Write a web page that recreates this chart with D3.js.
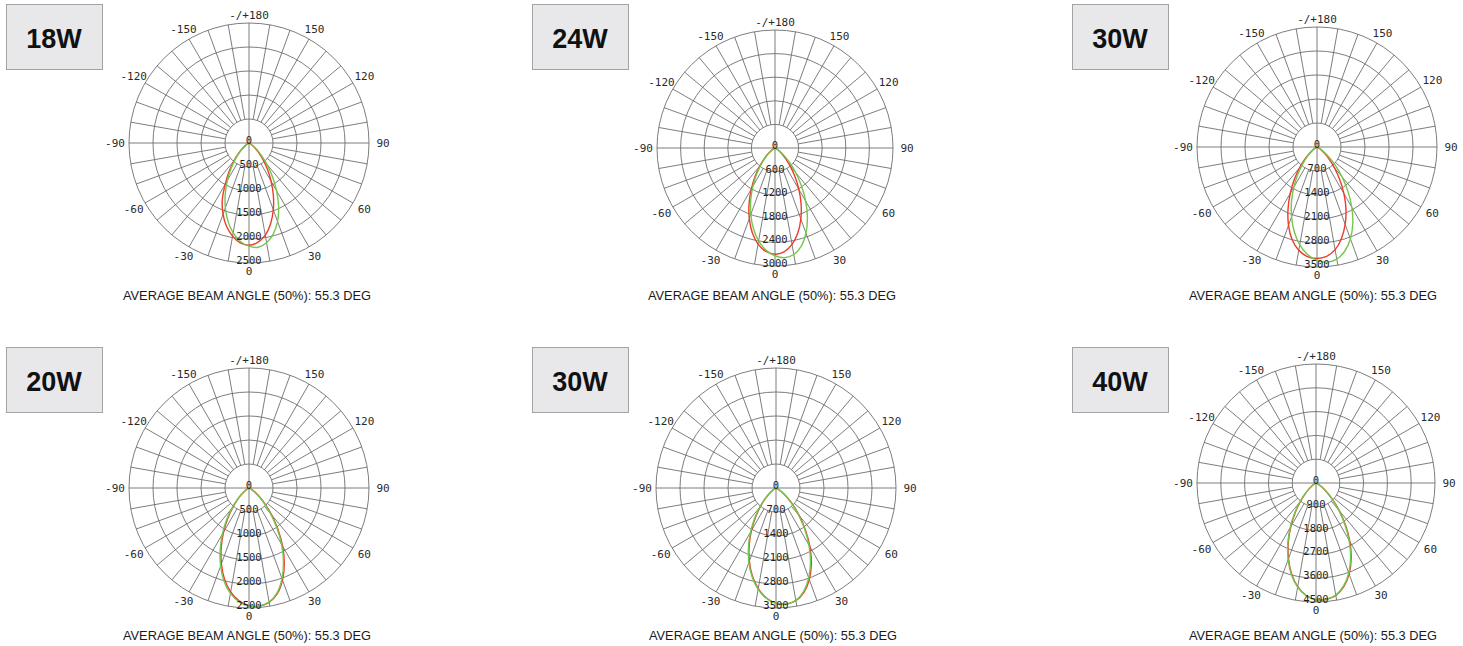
<!DOCTYPE html>
<html lang="en">
<head>
    <meta charset="UTF-8">
    <script src="https://d3js.org/d3.v7.min.js"></script>
    <style>
        body { margin: 0; background: #fff; font-family: "Liberation Sans", Arial, sans-serif; }
        .grid { fill: none; stroke: #6e6e6e; stroke-width: 0.9; }
        .tick { font-family: "DejaVu Sans Mono", monospace; font-size: 11px; fill: #2a2a2a; }
        .ring { font-family: "DejaVu Sans Mono", monospace; font-size: 10.5px; fill: #1e1e1e; }
        .curve { fill: none; stroke-width: 1.4; }
        .caption { font-size: 12.8px; fill: #1a1a1a; }
        .badge rect { fill: #e8e8eb; stroke: #a3a3a3; stroke-width: 1; }
        .badge text { font-size: 27px; font-weight: bold; fill: #111; }
    </style>
</head>
<body>
    <svg width="1463" height="646"></svg>
    <script>
        // panel titles and radial scale maxima
        const panelLabels = ["18W", "24W", "30W", "20W", "30W", "40W"];
        const ringMax = [2500, 3000, 3500, 2500, 3500, 4500];
        const caption = "AVERAGE BEAM ANGLE (50%): 55.3 DEG";

        const angleTicks = [0, 30, 60, 90, 120, 150, 180, -150, -120, -90, -60, -30];
        const angleTickLabels = ["0", "30", "60", "90", "120", "150", "-/+180", "-150", "-120", "-90", "-60", "-30"];

        // measurement angles (deg, 0 = nadir)
        const angles = [-90, -85, -80, -75, -70, -65, -60, -55, -50, -45, -40, -35, -30, -25, -20, -15, -10, -5,
            0, 5, 10, 15, 20, 25, 30, 35, 40, 45, 50, 55, 60, 65, 70, 75, 80, 85, 90];

        // candela
        const red18 = [0,0,0,0,5,15,45,95,180,310,490,720,990,1320,1580,1800,1970,2090,2130,2080,1950,1740,1480,1200,920,670,460,290,170,88,40,15,5,0,0,0,0];
        const green18 = [0,0,0,0,4,12,38,85,165,285,450,660,900,1170,1440,1690,1900,2060,2150,2180,2110,1960,1740,1460,1150,850,580,370,215,110,50,18,5,0,0,0,0];
        const red24 = [0,0,0,0,6,18,55,120,230,390,610,880,1200,1560,1910,2230,2480,2640,2700,2650,2490,2240,1920,1570,1210,880,600,380,220,115,52,18,6,0,0,0,0];
        const green24 = [0,0,0,0,5,15,48,105,200,350,560,820,1120,1460,1800,2120,2400,2610,2740,2800,2750,2580,2300,1950,1560,1170,820,530,310,165,75,28,8,0,0,0,0];
        const red30a = [0,0,0,0,8,25,70,150,290,500,790,1150,1560,2000,2430,2800,3060,3210,3250,3200,3040,2760,2400,2000,1570,1150,790,500,290,150,68,24,8,0,0,0,0];
        const green30a = [0,0,0,0,6,18,55,120,235,410,660,980,1350,1760,2170,2560,2900,3150,3310,3370,3320,3140,2850,2470,2030,1570,1130,750,450,240,110,40,12,0,0,0,0];
        const red20 = [0,0,0,0,5,15,45,100,190,330,520,770,1060,1370,1680,1970,2200,2360,2450,2470,2420,2280,2040,1740,1400,1050,740,480,285,150,68,25,8,0,0,0,0];
        const green20 = [0,0,0,0,5,16,48,108,205,355,560,820,1110,1420,1730,2010,2230,2380,2460,2470,2410,2260,2010,1700,1360,1010,700,450,265,140,62,22,7,0,0,0,0];
        const red30b = [0,0,0,0,7,20,60,135,260,450,710,1040,1430,1850,2270,2660,2980,3220,3360,3400,3340,3150,2840,2440,1980,1500,1060,700,420,220,100,36,10,0,0,0,0];
        const green30b = [0,0,0,0,7,22,65,145,280,480,750,1090,1480,1900,2310,2690,3000,3230,3370,3400,3330,3120,2790,2380,1920,1450,1020,670,400,210,95,34,10,0,0,0,0];
        const red40 = [0,0,0,0,8,25,75,170,330,580,930,1380,1910,2480,3040,3560,3980,4270,4410,4420,4320,4060,3660,3150,2560,1950,1380,900,540,285,130,48,14,0,0,0,0];
        const green40 = [0,0,0,0,9,28,80,180,345,600,960,1420,1950,2520,3080,3590,4000,4280,4420,4420,4300,4030,3620,3100,2500,1890,1330,860,510,270,122,45,13,0,0,0,0];

        const redSeries = [red18, red24, red30a, red20, red30b, red40];
        const greenSeries = [green18, green24, green30a, green20, green30b, green40];

        // where each panel sits on the page
        const layout = [
            { cx: 249, cy: 143, R: 120, bx: 6, by: 4, capX: 247, capY: 300 },
            { cx: 775, cy: 148, R: 118, bx: 532, by: 4, capX: 772, capY: 300 },
            { cx: 1317, cy: 147, R: 120, bx: 1072, by: 4, capX: 1313, capY: 300 },
            { cx: 249, cy: 488, R: 120, bx: 6, by: 347, capX: 247, capY: 640 },
            { cx: 776, cy: 488, R: 120, bx: 532, by: 347, capX: 773, capY: 640 },
            { cx: 1316, cy: 483, R: 119, bx: 1072, by: 347, capX: 1313, capY: 640 }
        ];

        const svg = d3.select("svg");
        const toRad = d => (Math.PI - d * Math.PI / 180); // 0 at bottom, 90 to the right

        layout.forEach((p, i) => {
            const max = ringMax[i];
            const r = d3.scaleLinear().domain([0, max]).range([0, p.R]);
            const rings = d3.range(1, 6).map(k => k * max / 5);

            // label badge
            const badge = svg.append("g").attr("class", "badge");
            badge.append("rect")
                .attr("x", p.bx + 0.5).attr("y", p.by + 0.5)
                .attr("width", 96).attr("height", 65);
            badge.append("text")
                .attr("x", p.bx + 48).attr("y", p.by + 44)
                .attr("text-anchor", "middle")
                .text(panelLabels[i]);

            const g = svg.append("g").attr("transform", `translate(${p.cx},${p.cy})`);

            // rings
            g.selectAll(".ringline")
                .data(rings)
                .enter().append("circle")
                .attr("class", "grid")
                .attr("r", d => r(d));

            // spokes every 10 deg, main axes run through the centre
            g.selectAll(".spoke")
                .data(d3.range(0, 360, 10))
                .enter().append("line")
                .attr("class", "grid")
                .attr("x1", d => (d % 90 === 0 ? 0 : r(rings[0])) * Math.sin(d * Math.PI / 180))
                .attr("y1", d => (d % 90 === 0 ? 0 : r(rings[0])) * Math.cos(d * Math.PI / 180))
                .attr("x2", d => p.R * Math.sin(d * Math.PI / 180))
                .attr("y2", d => p.R * Math.cos(d * Math.PI / 180));

            // angle labels
            g.selectAll(".tick")
                .data(angleTicks)
                .enter().append("text")
                .attr("class", "tick")
                .attr("text-anchor", "middle")
                .attr("dy", "0.35em")
                .attr("x", d => (p.R + 8 + 6 * Math.abs(Math.sin(d * Math.PI / 180))) * Math.sin(d * Math.PI / 180))
                .attr("y", d => (p.R + 8 + 6 * Math.abs(Math.sin(d * Math.PI / 180))) * Math.cos(d * Math.PI / 180))
                .text((d, j) => angleTickLabels[j]);

            // distribution curves
            const line = d3.lineRadial()
                .angle(d => toRad(d.a))
                .radius(d => r(d.v))
                .curve(d3.curveCatmullRomClosed.alpha(0.5));

            [[redSeries[i], "#ee3a2c"], [greenSeries[i], "#72c84a"]].forEach(([vals, col]) => {
                const pts = [{ a: 180, v: 0 }].concat(
                    angles.map((a, j) => ({ a: a, v: vals[j] })).filter(d => d.v > 0));
                g.append("path")
                    .attr("class", "curve")
                    .attr("stroke", col)
                    .attr("d", line(pts));
            });

            // radial value labels along nadir
            g.selectAll(".ring")
                .data([0].concat(rings))
                .enter().append("text")
                .attr("class", "ring")
                .attr("text-anchor", "middle")
                .attr("x", 0)
                .attr("y", d => r(d) + 1)
                .text(d => d);

            svg.append("text")
                .attr("class", "caption")
                .attr("x", p.capX).attr("y", p.capY)
                .attr("text-anchor", "middle")
                .text(caption);
        });
    </script>
</body>
</html>
